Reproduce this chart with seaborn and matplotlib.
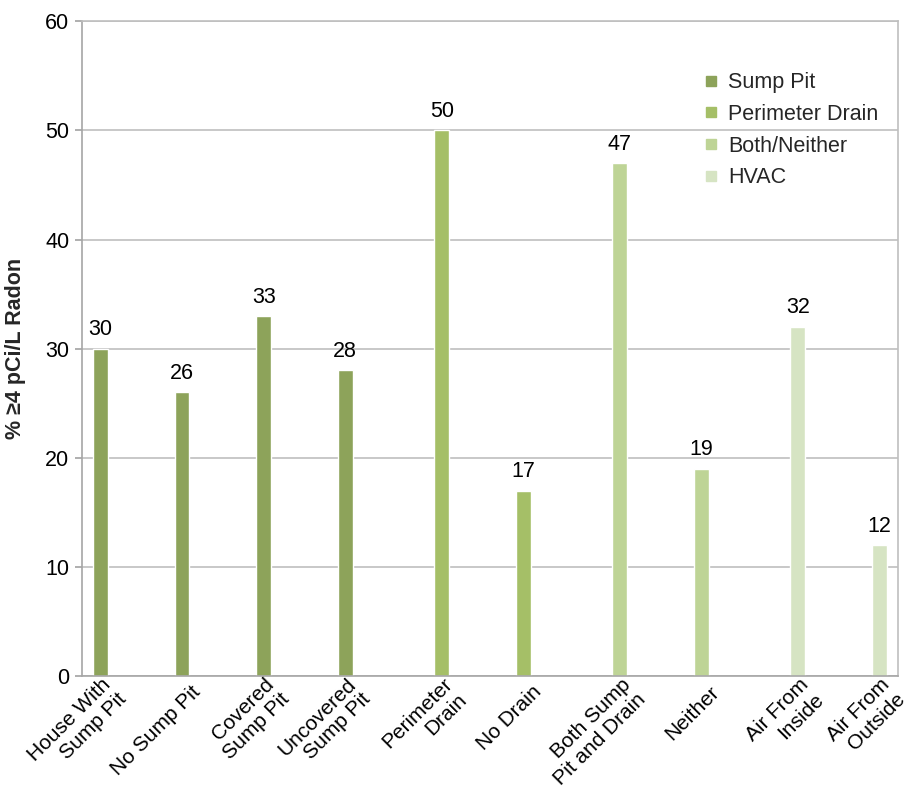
import matplotlib
matplotlib.use("Agg")
import matplotlib.pyplot as plt
import matplotlib.transforms as mtrans
import seaborn as sns
import pandas as pd
from matplotlib.lines import Line2D

categories = ["House With\nSump Pit", "No Sump Pit", "Covered\nSump Pit", "Uncovered\nSump Pit",
              "Perimeter\nDrain", "No Drain", "Both Sump\nPit and Drain", "Neither",
              "Air From\nInside", "Air From\nOutside"]
groups = ["Sump Pit", "Sump Pit", "Sump Pit", "Sump Pit",
          "Perimeter Drain", "Perimeter Drain", "Both/Neither", "Both/Neither",
          "HVAC", "HVAC"]
values = [30, 26, 33, 28, 50, 17, 47, 19, 32, 12]
group_order = ["Sump Pit", "Perimeter Drain", "Both/Neither", "HVAC"]
colors = ["#8DA35A", "#A5BF67", "#BED496", "#D6E4C3"]

df = pd.DataFrame({"cat": categories, "grp": groups, "val": values})

sns.set_theme(style="white")
plt.rcParams["font.family"] = ["Liberation Sans", "DejaVu Sans"]

FS = 15.5
FSX = 15

fig = plt.figure(figsize=(9.19, 7.87), dpi=100)
ax = fig.add_axes([0.0892, 0.141, 0.8878, 0.832])

sns.barplot(data=df, x="cat", y="val", hue="grp", hue_order=group_order,
            order=categories, palette=colors, dodge=True, width=0.73,
            saturation=1, ax=ax, legend=False)

for cont in ax.containers:
    labels = [f"{v:.0f}" if v == v else "" for v in cont.datavalues]
    ax.bar_label(cont, labels=labels, padding=6, fontsize=FS, color="black")

ax.set_ylim(0, 60)
ax.set_yticks(range(0, 61, 10))
ax.yaxis.grid(True, color="#BFBFBF", linewidth=1.2)
ax.set_axisbelow(True)
ax.set_xlabel("")
ax.set_ylabel("% ≥4 pCi/L Radon", fontsize=FS, fontweight="bold", labelpad=14)

for s in ["left", "bottom"]:
    ax.spines[s].set_color("#A6A6A6")
    ax.spines[s].set_linewidth(1.2)
for s in ["right", "top"]:
    ax.spines[s].set_color("#BFBFBF")
    ax.spines[s].set_linewidth(1.2)

ax.tick_params(axis="y", which="both", left=True, length=5, color="#A6A6A6",
               labelsize=FS, labelcolor="black", pad=4)
ax.tick_params(axis="x", length=0, labelsize=FSX, labelcolor="black", pad=0)

# category labels: rotated, anchored just below each drawn bar (as in the original)
ticks = ax.get_xticks()
ax.set_xticks(ticks)
ax.set_xticklabels([""] * len(ticks))
offset = mtrans.ScaledTranslation(0.15, -0.13, fig.dpi_scale_trans)
for cont in ax.containers:
    for bar in cont.patches:
        if not (bar.get_height() > 0):
            continue
        xc = bar.get_x() + bar.get_width() / 2
        lab = categories[int(round(xc))]
        ax.text(xc, 0, lab, transform=ax.get_xaxis_transform() + offset,
                rotation=45, rotation_mode="anchor", ha="right", va="center",
                multialignment="right", linespacing=1.15, fontsize=FSX,
                color="black", clip_on=False)

handles = [Line2D([0], [0], marker="s", linestyle="none", markersize=7,
                  markerfacecolor=c, markeredgecolor=c) for c in colors]
ax.legend(handles, group_order, loc="upper right", bbox_to_anchor=(1.0, 0.952),
          frameon=False, fontsize=FS, handletextpad=0.3, labelspacing=0.5,
          handlelength=1.0)

fig.savefig("out.png", dpi=100)
